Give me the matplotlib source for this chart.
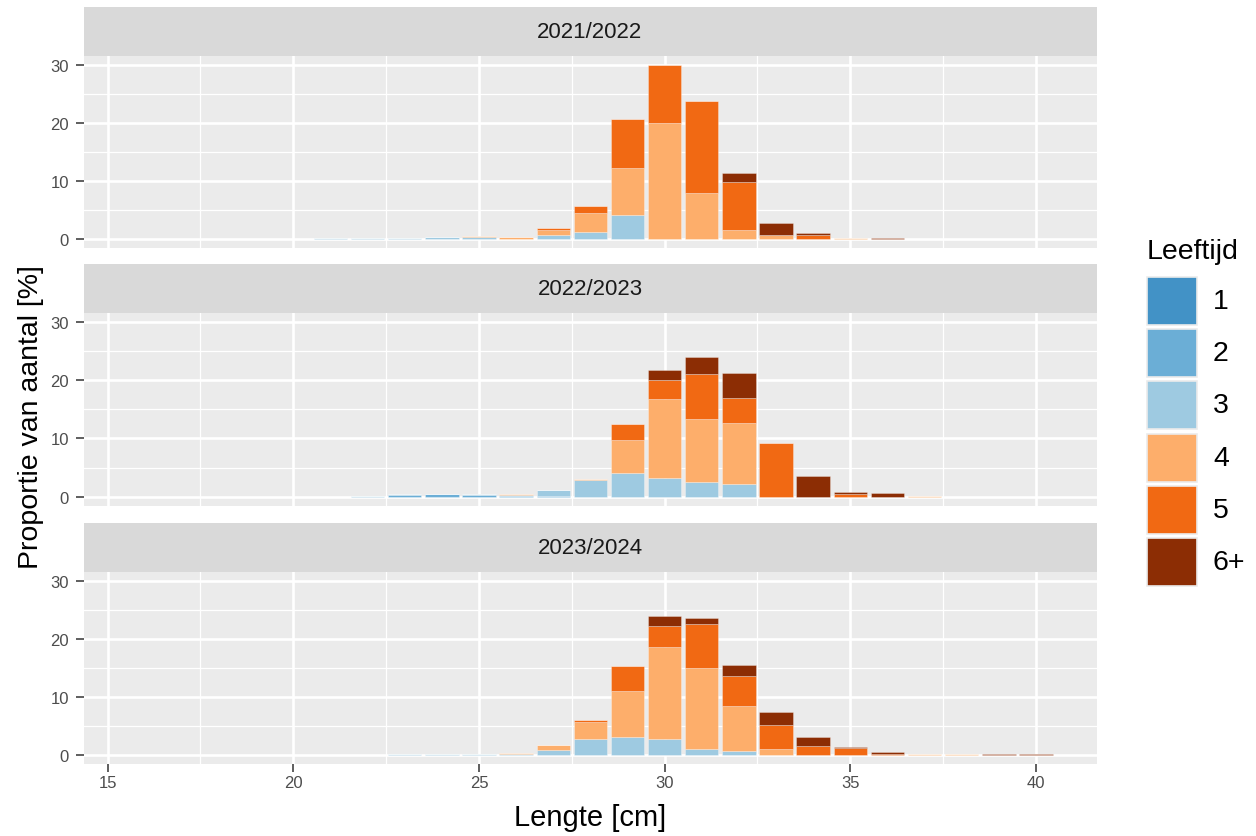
import numpy as np
import matplotlib
matplotlib.use("Agg")
import matplotlib.pyplot as plt
from matplotlib.patches import Rectangle

plt.rcParams["font.family"] = ["Liberation Sans", "DejaVu Sans"]

# Length classes (cm)
lengths = list(range(18, 41))

seasons = ["2021/2022", "2022/2023", "2023/2024"]
ages = ["1", "2", "3", "4", "5", "6+"]
age_colors = ["#4292c6", "#6baed6", "#9ecae1", "#fdae6b", "#f16913", "#8c2d04"]


def by_length(pairs):
    """Expand {length: percentage} into a list aligned with `lengths`."""
    return [pairs.get(l, 0.0) for l in lengths]


# 2021/2022 - proportion of number per length class, by age
s1_age1 = by_length({})
s1_age2 = by_length({})
s1_age3 = by_length({20: 0.1, 21: 0.2, 22: 0.2, 23: 0.25, 24: 0.35, 25: 0.35,
                     26: 0.1, 27: 0.8, 28: 1.2, 29: 4.1})
s1_age4 = by_length({25: 0.15, 26: 0.35, 27: 0.75, 28: 3.3, 29: 8.2, 30: 19.9,
                     31: 7.9, 32: 1.6, 33: 0.8, 35: 0.2})
s1_age5 = by_length({22: 0.1, 27: 0.35, 28: 1.3, 29: 8.3, 30: 10.0, 31: 15.8,
                     32: 8.2, 34: 0.75, 36: 0.05})
s1_age6 = by_length({32: 1.6, 33: 1.95, 34: 0.3, 36: 0.15})

# 2022/2023
s2_age1 = by_length({})
s2_age2 = by_length({23: 0.3, 24: 0.4, 25: 0.3, 26: 0.1, 27: 0.1})
s2_age3 = by_length({22: 0.1, 23: 0.1, 24: 0.05, 25: 0.15, 26: 0.25, 27: 1.0,
                     28: 2.8, 29: 4.15, 30: 3.2, 31: 2.6, 32: 2.15})
s2_age4 = by_length({26: 0.2, 28: 0.3, 29: 5.65, 30: 13.5, 31: 10.65, 32: 10.55,
                     37: 0.1})
s2_age5 = by_length({29: 2.75, 30: 3.3, 31: 7.85, 32: 4.3, 33: 9.3, 35: 0.4})
s2_age6 = by_length({30: 1.65, 31: 2.8, 32: 4.3, 34: 3.6, 35: 0.4, 36: 0.6})

# 2023/2024
s3_age1 = by_length({})
s3_age2 = by_length({})
s3_age3 = by_length({18: 0.05, 21: 0.03, 22: 0.03, 23: 0.1, 24: 0.1, 25: 0.1,
                     26: 0.1, 27: 0.8, 28: 2.65, 29: 3.0, 30: 2.65, 31: 1.0,
                     32: 0.6})
s3_age4 = by_length({26: 0.25, 27: 0.9, 28: 2.95, 29: 8.05, 30: 15.85, 31: 14.0,
                     32: 7.8, 33: 1.0, 37: 0.15, 38: 0.1})
s3_age5 = by_length({28: 0.35, 29: 4.3, 30: 3.7, 31: 7.5, 32: 5.15, 33: 4.2,
                     34: 1.45, 35: 1.1, 36: 0.1})
s3_age6 = by_length({30: 1.8, 31: 1.05, 32: 1.95, 33: 2.15, 34: 1.55, 35: 0.3,
                     36: 0.3, 39: 0.2, 40: 0.08})

season_data = [
    [s1_age1, s1_age2, s1_age3, s1_age4, s1_age5, s1_age6],
    [s2_age1, s2_age2, s2_age3, s2_age4, s2_age5, s2_age6],
    [s3_age1, s3_age2, s3_age3, s3_age4, s3_age5, s3_age6],
]

W, H = 1256, 837
fig = plt.figure(figsize=(W / 100, H / 100), dpi=100)
fig.patch.set_facecolor("white")

left_px, right_px = 83.5, 1096.5
panels_px = [(57, 249), (314, 506.5), (573, 764.5)]   # (top, bottom)
strip_h = 49


def fx(px):
    return px / W


def fy(px):
    return 1 - px / H


x = np.array(lengths, dtype=float)
for i, (season, stacks) in enumerate(zip(seasons, season_data)):
    top, bot = panels_px[i]
    ax = fig.add_axes([fx(left_px), fy(bot), fx(right_px - left_px), (bot - top) / H])
    ax.set_facecolor("#ebebeb")
    for s in ax.spines.values():
        s.set_visible(False)

    ax.set_xlim(14.35, 41.63)
    ax.set_ylim(-1.5, 31.5)
    ax.set_xticks([15, 20, 25, 30, 35, 40])
    ax.set_xticks([17.5, 22.5, 27.5, 32.5, 37.5], minor=True)
    ax.set_yticks([0, 10, 20, 30])
    ax.set_yticks([5, 15, 25], minor=True)
    ax.grid(which="major", color="white", linewidth=1.9)
    ax.grid(which="minor", color="white", linewidth=0.9)
    ax.set_axisbelow(True)

    bottom = np.zeros(len(lengths))
    for vals, col in zip(stacks, age_colors):
        v = np.array(vals)
        ax.bar(x, v, width=0.9, bottom=bottom, color=col,
               edgecolor=(1, 1, 1, 0.35), linewidth=0.6, zorder=2)
        bottom += v

    ax.tick_params(axis="y", which="major", length=5.5, width=1.1, color="#333333",
                   labelsize=12, labelcolor="#4d4d4d", pad=5)
    ax.tick_params(which="minor", length=0)
    if i < 2:
        ax.tick_params(axis="x", which="major", length=0, labelbottom=False)
    else:
        ax.tick_params(axis="x", which="major", length=5.5, width=1.1, color="#333333",
                       labelsize=12, labelcolor="#4d4d4d", pad=3)

    sax = fig.add_axes([fx(left_px), fy(top), fx(right_px - left_px), strip_h / H])
    sax.set_facecolor("#d9d9d9")
    sax.set_xticks([])
    sax.set_yticks([])
    for s in sax.spines.values():
        s.set_visible(False)
    sax.text(0.5, 0.5, season, ha="center", va="center", fontsize=16,
             color="#1a1a1a", transform=sax.transAxes)

fig.text(fx(590), fy(818), "Lengte [cm]", ha="center", va="center", fontsize=21,
         color="black")
fig.text(fx(31), fy(417), "Proportie van aantal [%]", ha="center", va="center",
         rotation=90, fontsize=20.5, color="black")

# Legend for age groups
fig.text(fx(1147), fy(252), "Leeftijd", ha="left", va="center", fontsize=20.5,
         color="black")
key_top0, key_h, key_step = 278, 48, 52.2
for k, (lab, col) in enumerate(zip(ages, age_colors)):
    ktop = key_top0 + k * key_step
    fig.add_artist(Rectangle((fx(1147), fy(ktop + key_h)), fx(50), key_h / H,
                             facecolor=col, edgecolor="#ebebeb", linewidth=1.2,
                             transform=fig.transFigure))
    fig.text(fx(1213), fy(ktop + key_h / 2), lab, ha="left", va="center",
             fontsize=20.5, color="black")

fig.savefig("out.png", dpi=100)
